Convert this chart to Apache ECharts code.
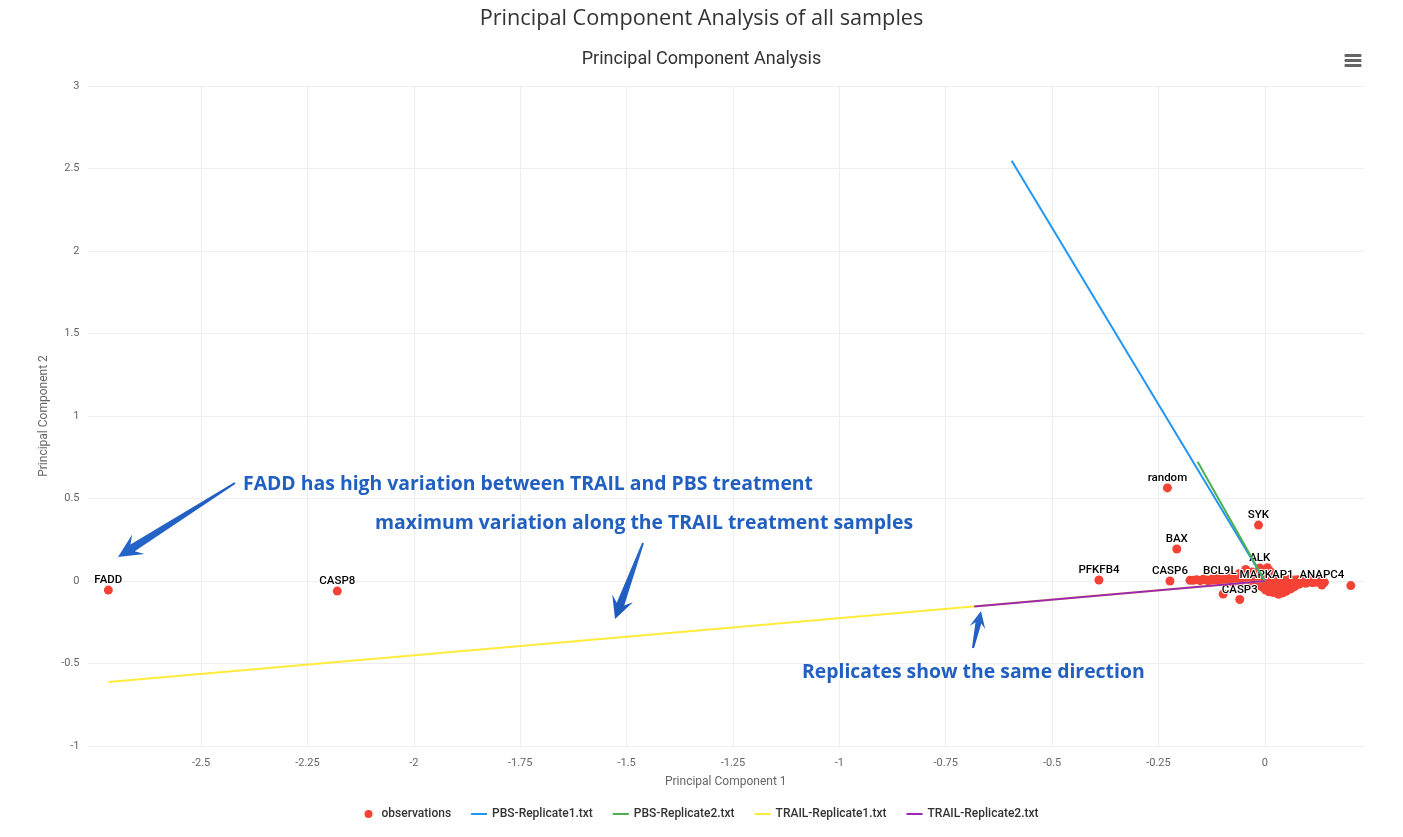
<!DOCTYPE html>
<html>
<head>
<meta charset="utf-8">
<script src="https://cdn.jsdelivr.net/npm/echarts@6/dist/echarts.min.js"></script>
<style>
html,body{margin:0;padding:0;background:#fff;}
#chart{width:1403px;height:837px;}
</style>
</head>
<body>
<div id="chart"></div>
<script>
// ---------- data ----------
const labeledNames = ['FADD', 'CASP8', 'PFKFB4', 'CASP6', 'BAX', 'random', 'SYK', 'ALK', 'BCL9L', 'MAPKAP1', 'ANAPC4', 'CASP3'];
const labeledX = [-2.718, -2.180, -0.390, -0.223, -0.207, -0.229, -0.015, -0.012, -0.106, 0.004, 0.134, -0.059];
const labeledY = [-0.055, -0.061, 0.006, 0.000, 0.194, 0.564, 0.339, 0.079, 0.000, -0.024, -0.024, -0.112];

const clusterX = [
  -0.176, -0.168, -0.160, -0.152, -0.145, -0.138, -0.131, -0.124, -0.118, -0.112, -0.100, -0.095,
  -0.090, -0.085, -0.080, -0.076, -0.071, -0.066, -0.062, -0.058, -0.054, -0.050, -0.046, -0.042,
  -0.038, -0.034, -0.030, -0.026, -0.022, -0.018, -0.014, -0.010,
  -0.006, -0.004, -0.002, 0.000, 0.002, 0.004, 0.006, 0.008, 0.010, 0.012, 0.014, 0.016, 0.018,
  0.020, 0.022, 0.024, 0.026, 0.028, 0.030, 0.032, 0.034, 0.036, 0.038, 0.040, 0.042, 0.044,
  0.046, 0.048, 0.050, 0.052, 0.055, 0.058, 0.061, 0.064, 0.067, 0.070, 0.073, 0.076, 0.080,
  0.084, 0.088, 0.092, 0.096, 0.100, 0.104, 0.108, 0.112, 0.116, 0.120, 0.124, 0.128, 0.132,
  0.136, 0.140,
  -0.045, 0.006, -0.030, 0.020, -0.060, 0.012,
  -0.098, 0.202
];
const clusterY = [
  0.004, 0.004, 0.008, 0.002, 0.010, 0.006, 0.000, 0.012, 0.005, 0.015, 0.009, -0.004,
  0.014, 0.002, 0.020, -0.006, 0.010, 0.025, 0.000, 0.016, -0.010, 0.030, 0.008, -0.015,
  0.022, 0.004, -0.020, 0.012, 0.040, -0.008, 0.018, -0.030,
  0.006, -0.040, 0.024, -0.012, -0.055, 0.010, -0.030, 0.034, -0.065, -0.004, -0.045, 0.016, -0.022,
  -0.070, 0.002, -0.036, 0.020, -0.058, -0.010, -0.080, 0.008, -0.028, -0.050, 0.012, -0.072, -0.016,
  0.004, -0.040, -0.062, 0.000, -0.026, 0.010, -0.048, -0.008, 0.006, -0.034, -0.004, 0.008, -0.020,
  0.002, -0.010, 0.006, -0.014, 0.000, -0.006, 0.004, -0.010, -0.002, -0.008, 0.000, -0.006, -0.010,
  -0.004, -0.008,
  0.070, 0.080, 0.055, 0.045, 0.045, 0.060,
  -0.079, -0.028
];

const loadingNames = ['PBS-Replicate1.txt', 'PBS-Replicate2.txt', 'TRAIL-Replicate1.txt', 'TRAIL-Replicate2.txt'];
const loadingX = [-0.595, -0.158, -2.718, -0.683];
const loadingY = [2.547, 0.723, -0.612, -0.155];
const loadingColors = ['#2196f3', '#4caf50', '#ffeb3b', '#9c27b0'];

const xTicks = [-2.5, -2.25, -2, -1.75, -1.5, -1.25, -1, -0.75, -0.5, -0.25, 0];

const annotations = [
  'FADD has high variation between TRAIL and PBS treatment',
  'maximum variation along the TRAIL treatment samples',
  'Replicates show the same direction'
];

// ---------- build ----------
const obsData = [];
for (let i = 0; i < clusterX.length; i++) obsData.push([clusterX[i], clusterY[i]]);
for (let i = 0; i < labeledNames.length; i++) {
  obsData.push({ name: labeledNames[i], value: [labeledX[i], labeledY[i]], label: { show: true } });
}

const series = [{
  name: 'observations',
  type: 'scatter',
  symbolSize: 9,
  itemStyle: { color: '#f44336', opacity: 1 },
  label: {
    show: false, position: 'top', distance: -1,
    formatter: p => p.name,
    fontFamily: 'Roboto', fontSize: 11.5, fontWeight: 500, color: '#000',
    textBorderColor: '#fff', textBorderWidth: 2
  },
  emphasis: { disabled: true },
  data: obsData
}];
loadingNames.forEach((n, i) => {
  series.push({
    name: n, type: 'line', symbol: 'none', silent: true,
    lineStyle: { color: loadingColors[i], width: 2 },
    itemStyle: { color: loadingColors[i] },
    data: [[loadingX[i], loadingY[i]], [0, 0]]
  });
});

function arrow(tail, tip, tw, sw, hw, hl) {
  const dx = tip[0] - tail[0], dy = tip[1] - tail[1];
  const L = Math.hypot(dx, dy), ux = dx / L, uy = dy / L, nx = -uy, ny = ux;
  const neck = [tip[0] - ux * hl * 0.72, tip[1] - uy * hl * 0.72];
  const barb = [tip[0] - ux * hl, tip[1] - uy * hl];
  const p = (b, s) => [b[0] + nx * s, b[1] + ny * s];
  return {
    type: 'polygon', silent: true, z: 100,
    shape: { points: [p(tail, tw / 2), p(neck, sw / 2), p(barb, hw / 2), tip, p(barb, -hw / 2), p(neck, -sw / 2), p(tail, -tw / 2)] },
    style: { fill: new echarts.graphic.LinearGradient(0, 0, 1, 1, [{ offset: 0, color: '#2a6cd0' }, { offset: 1, color: '#1a55b8' }]) }
  };
}
const annFont = { fontFamily: 'Open Sans', fontWeight: 'bold', fontSize: 19.4 };
const annColor = '#2160c0';
function annText(t, x, y) {
  return { type: 'text', x: x, y: y, silent: true, z: 100,
    style: Object.assign({ text: t, fill: annColor, verticalAlign: 'middle', align: 'left' }, annFont) };
}
const lineIcon = 'path://M0,0 L16,0 L16,2 L0,2 Z';

const chart = echarts.init(document.getElementById('chart'), null, { renderer: 'canvas' });
chart.setOption({
  animation: false,
  backgroundColor: '#fff',
  title: [
    { text: 'Principal Component Analysis of all samples', left: 'center', top: 3,
      textStyle: { fontFamily: 'Open Sans', fontWeight: 'normal', fontSize: 21.7, color: '#333' } },
    { text: 'Principal Component Analysis', left: 'center', top: 45,
      textStyle: { fontFamily: 'Roboto', fontWeight: 'normal', fontSize: 18, color: '#333' } }
  ],
  legend: {
    bottom: 12, left: 'center', itemGap: 20, itemWidth: 16, itemHeight: 8, symbolKeepAspect: true,
    textStyle: { fontFamily: 'Roboto', fontSize: 12, color: '#333', fontWeight: 500 },
    data: [{ name: 'observations', icon: 'circle' }].concat(loadingNames.map(n => ({ name: n, icon: lineIcon })))
  },
  grid: { left: 87.5, right: 39, top: 86, bottom: 91, containLabel: false },
  xAxis: {
    type: 'value', min: -2.767, max: 0.233,
    name: 'Principal Component 1', nameLocation: 'middle', nameGap: 30,
    nameTextStyle: { fontFamily: 'Roboto', fontSize: 12, color: '#666' },
    axisLine: { show: false },
    axisTick: { show: false, customValues: xTicks },
    axisLabel: { customValues: xTicks, margin: 12, fontFamily: 'Roboto', fontSize: 11, color: '#666',
      formatter: v => String(v) },
    splitLine: { show: true, lineStyle: { color: '#eeeeee', width: 1 } }
  },
  yAxis: {
    type: 'value', min: -1, max: 3, interval: 0.5,
    name: 'Principal Component 2', nameLocation: 'middle', nameGap: 24, nameRotate: 90,
    nameTextStyle: { fontFamily: 'Roboto', fontSize: 12, color: '#666' },
    axisLine: { show: false }, axisTick: { show: false },
    axisLabel: { margin: 8, fontFamily: 'Roboto', fontSize: 11, color: '#666', formatter: v => String(v) },
    splitLine: { show: true, lineStyle: { color: '#eeeeee', width: 1 } }
  },
  graphic: [
    // hamburger menu icon
    { type: 'rect', shape: { x: 1344.5, y: 54, width: 17, height: 3, r: 1 }, style: { fill: '#666' }, silent: true },
    { type: 'rect', shape: { x: 1344.5, y: 59, width: 17, height: 3, r: 1 }, style: { fill: '#666' }, silent: true },
    { type: 'rect', shape: { x: 1344.5, y: 64, width: 17, height: 3, r: 1 }, style: { fill: '#666' }, silent: true },
    annText(annotations[0], 243, 484),
    annText(annotations[1], 375, 523),
    annText(annotations[2], 802, 672),
    arrow([235, 483], [118, 557], 2, 8, 23, 24),
    arrow([643, 543], [615, 619], 2, 8, 22, 22),
    arrow([973, 648], [981, 611], 2, 6, 16, 17)
  ],
  series: series
});
</script>
</body>
</html>
